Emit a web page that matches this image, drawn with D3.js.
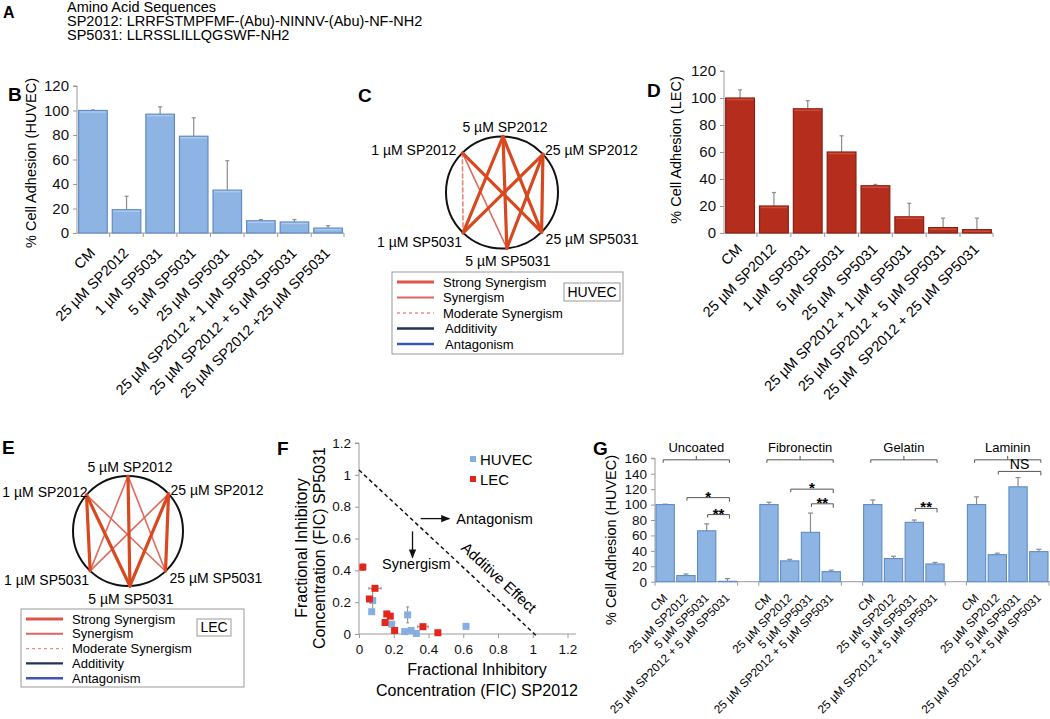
<!DOCTYPE html>
<html>
<head>
<meta charset="utf-8">
<script src="https://cdn.jsdelivr.net/npm/d3@7"></script>
<style>
  body { margin: 0; background: #fff; }
  svg { font-family: "Liberation Sans", Arial, Helvetica, sans-serif; }
  text { white-space: pre; }
</style>
</head>
<body>
<svg id="fig" width="1050" height="719"></svg>
<script>
// ---- data ----
const seqTitle = "Amino Acid Sequences";
const sequences = ["SP2012: LRRFSTMPFMF-(Abu)-NINNV-(Abu)-NF-NH2", "SP5031: LLRSSLILLQGSWF-NH2"];

const bCategories = ["CM", "25 µM SP2012", "1 µM SP5031", "5 µM SP5031", "25 µM SP5031",
  "25 µM SP2012 + 1 µM SP5031", "25 µM SP2012 + 5 µM SP5031", "25 µM SP2012 +25 µM SP5031"];
const bValues = [100, 19, 97, 79, 35, 10, 9, 4];
const bErrors = [0.5, 11, 6, 15, 24, 1, 2, 2];

const dCategories = ["CM", "25 µM SP2012", "1 µM SP5031", "5 µM SP5031", "25 µM  SP5031",
  "25 µM SP2012 + 1 µM SP5031", "25 µM SP2012 + 5 µM SP5031", "25 µM  SP2012 + 25 µM SP5031"];
const dValues = [100, 20, 92, 60, 35, 12, 4, 2.5];
const dErrors = [6, 10, 6, 12, 1, 10, 7, 8.5];

const adhesionTicks = [0, 20, 40, 60, 80, 100, 120];

const netNodes = ["1 µM SP2012", "5 µM SP2012", "25 µM SP2012", "1 µM SP5031", "5 µM SP5031", "25 µM SP5031"];
const huvecEdges = [
  ["1 µM SP2012", "1 µM SP5031", "moderate"],
  ["1 µM SP2012", "5 µM SP5031", "synergism"],
  ["1 µM SP2012", "25 µM SP5031", "strong"],
  ["5 µM SP2012", "1 µM SP5031", "strong"],
  ["5 µM SP2012", "5 µM SP5031", "strong"],
  ["5 µM SP2012", "25 µM SP5031", "strong"],
  ["25 µM SP2012", "1 µM SP5031", "strong"],
  ["25 µM SP2012", "5 µM SP5031", "strong"],
  ["25 µM SP2012", "25 µM SP5031", "strong"]
];
const lecEdges = [
  ["1 µM SP2012", "1 µM SP5031", "strong"],
  ["1 µM SP2012", "5 µM SP5031", "strong"],
  ["1 µM SP2012", "25 µM SP5031", "synergism"],
  ["5 µM SP2012", "1 µM SP5031", "synergism"],
  ["5 µM SP2012", "5 µM SP5031", "strong"],
  ["5 µM SP2012", "25 µM SP5031", "synergism"],
  ["25 µM SP2012", "1 µM SP5031", "synergism"],
  ["25 µM SP2012", "5 µM SP5031", "strong"],
  ["25 µM SP2012", "25 µM SP5031", "strong"]
];
const legendTypes = ["strong", "synergism", "moderate", "additivity", "antagonism"];
const legendLabels = ["Strong Synergism", "Synergism", "Moderate Synergism", "Additivity", "Antagonism"];

const fTicks = [0, 0.2, 0.4, 0.6, 0.8, 1, 1.2];
const huvecFicX = [0.079, 0.073, 0.188, 0.28, 0.263, 0.30, 0.33, 0.616];
const huvecFicY = [0.21, 0.14, 0.062, 0.12, 0.015, 0.022, 0.003, 0.048];
const huvecErrY = [0.07, 0, 0, 0.05, 0, 0, 0, 0];
const lecFicX = [0.022, 0.092, 0.06, 0.16, 0.18, 0.15, 0.205, 0.368, 0.454];
const lecFicY = [0.42, 0.287, 0.22, 0.126, 0.112, 0.072, 0.022, 0.046, 0.008];
const lecErrX = [0, 0.035, 0, 0, 0, 0, 0, 0.03, 0];
const lecErrY = [0.02, 0.01, 0, 0, 0, 0, 0, 0, 0];

const gGroups = ["Uncoated", "Fibronectin", "Gelatin", "Laminin"];
const gTreatments = ["CM", "25 µM SP2012", "5 µM SP5031", "25 µM SP2012 + 5 µM SP5031"];
const gValues = [[100, 8, 66, 0.5], [100, 27, 64, 13], [100, 30, 77, 23], [100, 35, 123, 39]];
const gErrors = [[0.5, 2, 9, 3.5], [3, 2, 25, 2], [6, 3, 3, 2], [10, 2, 12, 3]];
const gTicks = [0, 20, 40, 60, 80, 100, 120, 140, 160];
// significance: group, from treatment, to treatment, bracket level, label
const gSignif = [
  [0, 1, 3, 109, "*"], [0, 2, 3, 87, "**"],
  [1, 1, 3, 120, "*"], [1, 2, 3, 101, "**"],
  [2, 2, 3, 95, "**"],
  [3, 1, 3, 143, "NS"]
];

// ---- drawing ----
const svg = d3.select("#fig");
const axisGray = "#9a9a9a";
const errGray = "#8c8c8c";
const blueFill = "#8db4e2", blueStroke = "#5f8cc4";
const redFill = "#b52e1d", redStroke = "#8a1f12";

const letter = (x, y, t, s = 19) =>
  svg.append("text").attr("x", x).attr("y", y).attr("font-size", s).attr("font-weight", "bold").text(t);

// A
letter(3, 18, "A", 16);
svg.append("text").attr("x", 67).attr("y", 11.5).attr("font-size", 14.5).text(seqTitle);
sequences.forEach((s, i) =>
  svg.append("text").attr("x", 67).attr("y", 25.5 + i * 14).attr("font-size", 14.5).text(s));

function styleAxis(g) {
  g.select(".domain").attr("stroke", axisGray);
  g.selectAll(".tick line").attr("stroke", axisGray);
  g.selectAll(".tick text").attr("fill", "#111");
}

function barPanel(o) {
  const g = svg.append("g");
  const x = d3.scaleBand().domain(o.cats).range([o.x0, o.x1]).paddingInner(0.15).paddingOuter(0.05);
  const y = d3.scaleLinear().domain([0, 120]).range([o.y0, o.y1]);

  const ya = g.append("g").attr("transform", `translate(${o.x0},0)`)
    .call(d3.axisLeft(y).tickValues(adhesionTicks).tickSize(4).tickPadding(4))
    .attr("font-size", 15).attr("font-family", null);
  ya.select(".domain").attr("d", `M-4,${o.y1}H0V${o.y0}`);
  styleAxis(ya);

  // x baseline with ticks at band boundaries
  g.append("line").attr("x1", o.x0).attr("x2", o.x1).attr("y1", o.y0).attr("y2", o.y0).attr("stroke", axisGray);
  const half = x.step() * x.paddingInner() / 2;
  g.selectAll(".bt").data(o.cats.slice(1)).join("line")
    .attr("x1", d => x(d) - half).attr("x2", d => x(d) - half)
    .attr("y1", o.y0).attr("y2", o.y0 + 4).attr("stroke", axisGray);
  g.append("line").attr("x1", o.x1).attr("x2", o.x1).attr("y1", o.y0).attr("y2", o.y0 + 4).attr("stroke", axisGray);

  // error bars
  g.selectAll(".err").data(o.cats).join("g").each(function (d, i) {
    const cx = x(d) + x.bandwidth() / 2;
    const top = y(o.vals[i] + o.errs[i]);
    d3.select(this).append("line").attr("x1", cx).attr("x2", cx).attr("y1", y(o.vals[i])).attr("y2", top)
      .attr("stroke", errGray).attr("stroke-width", 1.2);
    d3.select(this).append("line").attr("x1", cx - 2).attr("x2", cx + 2).attr("y1", top).attr("y2", top)
      .attr("stroke", errGray).attr("stroke-width", 1.2);
  });

  g.selectAll(".bar").data(o.cats).join("rect")
    .attr("x", d => x(d)).attr("width", x.bandwidth())
    .attr("y", (d, i) => y(o.vals[i])).attr("height", (d, i) => o.y0 - y(o.vals[i]))
    .attr("fill", o.fill).attr("stroke", o.stroke).attr("stroke-width", 1.2);
  g.selectAll(".hl").data(o.cats).join("line")
    .attr("x1", d => x(d) + 1).attr("x2", d => x(d) + x.bandwidth() - 1)
    .attr("y1", (d, i) => y(o.vals[i]) + 1.5).attr("y2", (d, i) => y(o.vals[i]) + 1.5)
    .attr("stroke", o.hl).attr("stroke-width", 1.5).attr("opacity", 0.8);

  g.selectAll(".xl").data(o.cats).join("text")
    .attr("transform", d => `translate(${x(d) + x.bandwidth() / 2 + 3},${o.y0 + o.labelDy}) rotate(-45)`)
    .attr("text-anchor", "end").attr("font-size", 14.5).text(d => d);

  g.append("text")
    .attr("transform", `translate(${o.titleX},${o.titleY}) rotate(-90)`)
    .attr("text-anchor", "middle").attr("font-size", 14.5).text(o.title);
}

letter(8, 101, "B");
barPanel({ cats: bCategories, vals: bValues, errs: bErrors, x0: 77, x1: 344, y0: 233, y1: 86,
  fill: blueFill, stroke: blueStroke, hl: "#b5d0f0", labelDy: 21, title: "% Cell Adhesion (HUVEC)", titleX: 36, titleY: 163 });

letter(647, 97, "D");
barPanel({ cats: dCategories, vals: dValues, errs: dErrors, x0: 724, x1: 993, y0: 233, y1: 71,
  fill: redFill, stroke: redStroke, hl: "#d4553f", labelDy: 17, title: "% Cell Adhesion (LEC)", titleX: 681, titleY: 150 });

// ---- network panels ----
const edgeStyle = {
  strong: { color: "#d8491f", width: 3.2, dash: null },
  synergism: { color: "#e06a5c", width: 1.6, dash: null },
  moderate: { color: "#e8857a", width: 1.6, dash: "4,3" },
  additivity: { color: "#1c3657", width: 2.4, dash: null },
  antagonism: { color: "#3e55b5", width: 2.4, dash: null }
};
const legendStyle = {
  strong: { color: "#dc5548", width: 3, dash: null },
  synergism: { color: "#e0655c", width: 2, dash: null },
  moderate: { color: "#e8908a", width: 1.4, dash: "3,3" },
  additivity: { color: "#1c3657", width: 2.4, dash: null },
  antagonism: { color: "#3e55b5", width: 2.4, dash: null }
};
// label offsets by node slot: [dx, dy, anchor]
const labelOffsets = [[-6, -3, "end"], [2, -9, "middle"], [2, -4, "start"], [-1, 9, "end"], [1, 13, "middle"], [4, 7, "start"]];

function network(o) {
  const g = svg.append("g");
  const pos = {};
  netNodes.forEach((n, i) => {
    const a = o.angles[i] * Math.PI / 180;
    pos[n] = [o.cx + o.r * Math.cos(a), o.cy + o.r * Math.sin(a)];
  });
  g.append("circle").attr("cx", o.cx).attr("cy", o.cy).attr("r", o.r)
    .attr("fill", "none").attr("stroke", "#111").attr("stroke-width", 2);
  const order = ["synergism", "moderate", "strong"];
  g.selectAll(".edge").data(o.edges.slice().sort((a, b) => order.indexOf(a[2]) - order.indexOf(b[2]))).join("line")
    .attr("x1", d => pos[d[0]][0]).attr("y1", d => pos[d[0]][1])
    .attr("x2", d => pos[d[1]][0]).attr("y2", d => pos[d[1]][1])
    .attr("stroke", d => edgeStyle[d[2]].color).attr("stroke-width", d => edgeStyle[d[2]].width)
    .attr("stroke-dasharray", d => edgeStyle[d[2]].dash).attr("stroke-linecap", "round");
  g.selectAll(".nl").data(netNodes).join("text")
    .attr("x", (d, i) => pos[d][0] + labelOffsets[i][0] + (o.shift[i] || 0))
    .attr("y", (d, i) => pos[d][1] + labelOffsets[i][1])
    .attr("dy", "0.35em").attr("text-anchor", (d, i) => labelOffsets[i][2])
    .attr("font-size", 14).text(d => d);

  // legend
  const L = o.legend;
  g.append("rect").attr("x", L.x).attr("y", L.y).attr("width", L.w).attr("height", L.h)
    .attr("fill", "#fff").attr("stroke", "#999").attr("stroke-width", 1);
  const rows = g.selectAll(".lr").data(legendTypes).join("g")
    .attr("transform", (d, i) => `translate(0,${L.y + L.top + i * L.step})`);
  rows.append("line").attr("x1", L.x + 5).attr("x2", L.x + 42).attr("y1", 0).attr("y2", 0)
    .attr("stroke", d => legendStyle[d].color).attr("stroke-width", d => legendStyle[d].width)
    .attr("stroke-dasharray", d => legendStyle[d].dash);
  rows.append("text").attr("x", (d, i) => L.x + 51 + (i > 2 ? L.indent : 0)).attr("dy", "0.35em")
    .attr("font-size", 13).text((d, i) => legendLabels[i]);
  g.append("rect").attr("x", L.bx).attr("y", L.by).attr("width", L.bw).attr("height", L.bh)
    .attr("fill", "#fff").attr("stroke", "#999");
  g.append("text").attr("x", L.bx + L.bw / 2).attr("y", L.by + L.bh / 2).attr("dy", "0.35em")
    .attr("text-anchor", "middle").attr("font-size", 14).text(o.cell);
}

letter(358, 102, "C");
network({ cx: 502, cy: 192.5, r: 56, angles: [-135, -89, -43, 134, 85, 45], edges: huvecEdges, cell: "HUVEC", shift: [],
  legend: { x: 392, y: 272, w: 231, h: 82, top: 10, step: 15.5, indent: 2, bx: 564, by: 283, bw: 56, bh: 18 } });

letter(2, 454, "E");
network({ cx: 128, cy: 531, r: 55, angles: [-139, -90, -42.5, 133.5, 88, 47], edges: lecEdges, cell: "LEC", shift: [7],
  legend: { x: 21, y: 609, w: 223, h: 78, top: 10, step: 14.8, indent: 0, bx: 197, by: 619, bw: 34, bh: 17 } });

// ---- F: isobologram ----
letter(277, 455, "F");
(function () {
  const g = svg.append("g");
  const x = d3.scaleLinear().domain([0, 1.2]).range([359, 567.5]);
  const y = d3.scaleLinear().domain([0, 1.2]).range([634, 443]);
  const fmt = d3.format("~g");
  const xa = g.append("g").attr("transform", "translate(0,634)")
    .call(d3.axisBottom(x).tickValues(fTicks).tickFormat(fmt).tickSize(4).tickPadding(6))
    .attr("font-size", 13.5).attr("font-family", null);
  xa.select(".domain").attr("d", "M359,0H576");
  styleAxis(xa);
  const ya = g.append("g").attr("transform", "translate(359,0)")
    .call(d3.axisLeft(y).tickValues(fTicks).tickFormat(fmt).tickSize(4).tickPadding(4))
    .attr("font-size", 13.5).attr("font-family", null);
  ya.select(".domain").attr("d", "M-4,443H0V634");
  styleAxis(ya);

  // additive line
  g.append("line").attr("x1", x(0)).attr("y1", y(1.03)).attr("x2", x(1.025)).attr("y2", y(-0.015))
    .attr("stroke", "#111").attr("stroke-width", 1.5).attr("stroke-dasharray", "4,3");
  const ang = Math.atan2(y(0) - y(1.03), x(1.025) - x(0)) * 180 / Math.PI;
  g.append("text").attr("transform", `translate(${x(0.785)},${y(0.33)}) rotate(${ang})`)
    .attr("text-anchor", "middle").attr("font-size", 15).text("Additive Effect");

  // arrows
  const defs = svg.append("defs");
  defs.append("marker").attr("id", "ah").attr("viewBox", "0 0 10 10").attr("refX", 9).attr("refY", 5)
    .attr("markerWidth", 7).attr("markerHeight", 7).attr("orient", "auto")
    .append("path").attr("d", "M0,1L10,5L0,9z").attr("fill", "#111");
  g.append("line").attr("x1", x(0.355)).attr("x2", x(0.52)).attr("y1", y(0.725)).attr("y2", y(0.725))
    .attr("stroke", "#111").attr("stroke-width", 1.3).attr("marker-end", "url(#ah)");
  g.append("text").attr("x", x(0.56)).attr("y", y(0.725)).attr("dy", "0.35em").attr("font-size", 14.5).text("Antagonism");
  g.append("line").attr("x1", x(0.308)).attr("x2", x(0.308)).attr("y1", y(0.645)).attr("y2", y(0.48))
    .attr("stroke", "#111").attr("stroke-width", 1.3).attr("marker-end", "url(#ah)");
  g.append("text").attr("x", x(0.33)).attr("y", y(0.44)).attr("dy", "0.35em").attr("text-anchor", "middle")
    .attr("font-size", 14.5).text("Synergism");

  function series(xs, ys, ex, ey, color) {
    const s = g.append("g");
    xs.forEach((v, i) => {
      const cx = x(v), cy = y(ys[i]);
      if (ex[i] > 0) {
        s.append("line").attr("x1", x(v - ex[i])).attr("x2", x(v + ex[i])).attr("y1", cy).attr("y2", cy).attr("stroke", errGray);
        [v - ex[i], v + ex[i]].forEach(e => s.append("line").attr("x1", x(e)).attr("x2", x(e))
          .attr("y1", cy - 1.5).attr("y2", cy + 1.5).attr("stroke", errGray));
      }
      if (ey[i] > 0) {
        s.append("line").attr("x1", cx).attr("x2", cx).attr("y1", y(ys[i] - ey[i])).attr("y2", y(ys[i] + ey[i])).attr("stroke", errGray);
        [ys[i] - ey[i], ys[i] + ey[i]].forEach(e => s.append("line").attr("x1", cx - 1.5).attr("x2", cx + 1.5)
          .attr("y1", y(e)).attr("y2", y(e)).attr("stroke", errGray));
      }
      s.append("rect").attr("x", cx - 3.5).attr("y", cy - 3.5).attr("width", 7).attr("height", 7).attr("fill", color);
    });
  }
  series(huvecFicX, huvecFicY, huvecFicX.map(() => 0), huvecErrY, "#86aee0");
  series(lecFicX, lecFicY, lecErrX, lecErrY, "#e4261a");

  // legend
  [["HUVEC", "#86aee0"], ["LEC", "#e4261a"]].forEach((d, i) => {
    g.append("rect").attr("x", 470).attr("y", 456 + i * 20).attr("width", 6).attr("height", 6).attr("fill", d[1]);
    g.append("text").attr("x", 480).attr("y", 460 + i * 20).attr("dy", "0.35em").attr("font-size", 15).text(d[0]);
  });

  // axis titles
  g.append("text").attr("x", 477).attr("y", 675).attr("text-anchor", "middle").attr("font-size", 16).text("Fractional Inhibitory");
  g.append("text").attr("x", 477).attr("y", 696).attr("text-anchor", "middle").attr("font-size", 16).text("Concentration (FIC) SP2012");
  g.append("text").attr("transform", "translate(307,548) rotate(-90)").attr("text-anchor", "middle").attr("font-size", 16).text("Fractional Inhibitory");
  g.append("text").attr("transform", "translate(325,548) rotate(-90)").attr("text-anchor", "middle").attr("font-size", 16).text("Concentration (FIC) SP5031");
})();

// ---- G: substrates ----
letter(593, 455, "G");
(function () {
  const g = svg.append("g");
  const slots = d3.range(gGroups.length * 5 - 1);
  const x = d3.scaleBand().domain(slots).range([655, 1049]).paddingInner(0.12).paddingOuter(0.05);
  const y = d3.scaleLinear().domain([0, 160]).range([581.7, 458.3]);
  const slot = (gi, ti) => gi * 5 + ti;
  const cx = (gi, ti) => x(slot(gi, ti)) + x.bandwidth() / 2;

  const ya = g.append("g").attr("transform", "translate(655,0)")
    .call(d3.axisLeft(y).tickValues(gTicks).tickSize(4).tickPadding(4))
    .attr("font-size", 13.5).attr("font-family", null);
  ya.select(".domain").attr("d", `M-4,${y(160)}H0V${y(0)}`);
  styleAxis(ya);
  g.append("line").attr("x1", 655).attr("x2", 1050).attr("y1", y(0)).attr("y2", y(0)).attr("stroke", axisGray);
  gGroups.forEach((grp, gi) => {
    [x(slot(gi, 0)) - 1, x(slot(gi, 3)) + x.bandwidth() + 1].forEach(px =>
      g.append("line").attr("x1", px).attr("x2", px).attr("y1", y(0)).attr("y2", y(0) + 4).attr("stroke", axisGray));
  });

  gGroups.forEach((grp, gi) => {
    gTreatments.forEach((t, ti) => {
      const v = gValues[gi][ti], e = gErrors[gi][ti], c = cx(gi, ti);
      g.append("line").attr("x1", c).attr("x2", c).attr("y1", y(v)).attr("y2", y(v + e)).attr("stroke", errGray).attr("stroke-width", 1.2);
      g.append("line").attr("x1", c - 2.5).attr("x2", c + 2.5).attr("y1", y(v + e)).attr("y2", y(v + e)).attr("stroke", errGray).attr("stroke-width", 1.2);
      g.append("rect").attr("x", x(slot(gi, ti))).attr("width", x.bandwidth())
        .attr("y", y(v)).attr("height", y(0) - y(v))
        .attr("fill", blueFill).attr("stroke", blueStroke).attr("stroke-width", 1.1);
      g.append("text").attr("transform", `translate(${c + 3},${y(0) + 17}) rotate(-45)`)
        .attr("text-anchor", "end").attr("font-size", 11.8).text(t);
    });
    // group bracket
    const a = cx(gi, 0) - 2, b = cx(gi, 3) + 2, by = y(158), m = (a + b) / 2;
    g.append("path").attr("d", `M${a},${by + 3}V${by}H${b}V${by + 3}M${m},${by}V${by - 4}`)
      .attr("fill", "none").attr("stroke", "#555").attr("stroke-width", 1);
    g.append("text").attr("x", m).attr("y", by - 8).attr("text-anchor", "middle").attr("font-size", 13).text(grp);
  });

  gSignif.forEach(([gi, f, t, lvl, lab]) => {
    const a = cx(gi, f) + 1, b = cx(gi, t) + 2, by = y(lvl);
    g.append("path").attr("d", `M${a},${by + 3}V${by}H${b}V${by + 4}`)
      .attr("fill", "none").attr("stroke", "#555").attr("stroke-width", 1);
    const star = lab !== "NS";
    g.append("text").attr("x", (a + b) / 2).attr("y", star ? by + 4 : by - 2).attr("text-anchor", "middle")
      .attr("font-size", star ? 15 : 14).attr("font-weight", star ? "bold" : null).text(lab);
  });

  g.append("text").attr("transform", "translate(616,540) rotate(-90)").attr("text-anchor", "middle")
    .attr("font-size", 14.5).text("% Cell Adhesion (HUVEC)");
})();
</script>
</body>
</html>
